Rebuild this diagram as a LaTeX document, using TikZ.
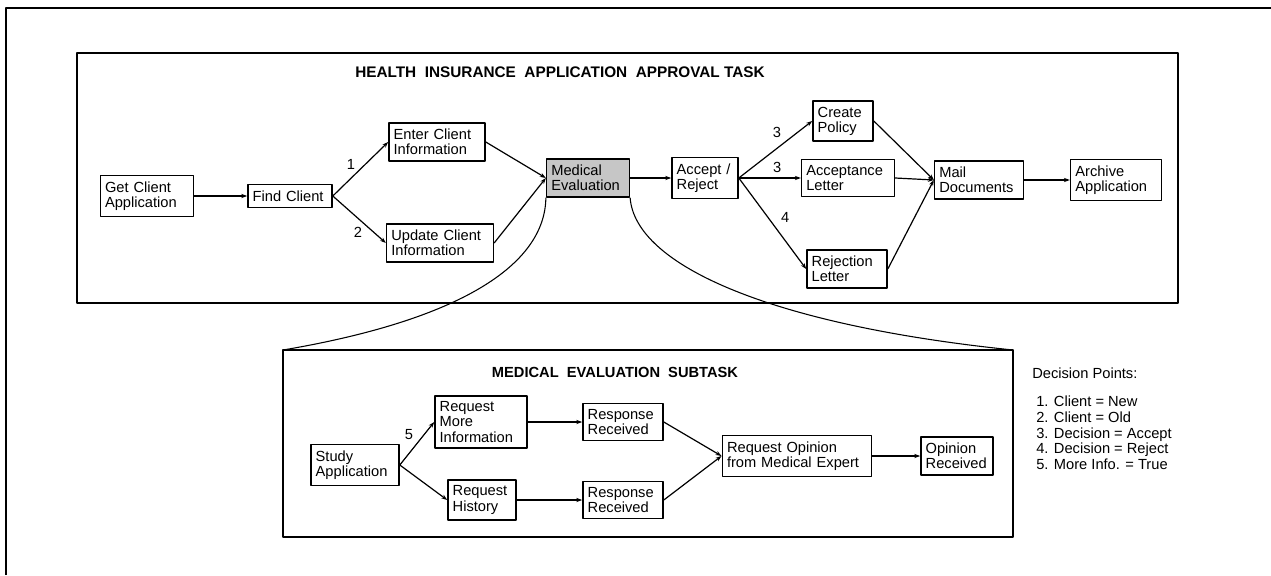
\documentclass[tikz,border=0pt]{standalone}
\usepackage{fontspec}
\setmainfont{Liberation Sans}
\usetikzlibrary{arrows.meta}

\begin{document}
\begin{tikzpicture}[x=0.75pt, y=-0.75pt, font=\fontsize{11}{11.3}\selectfont, line join=round, >={Stealth[length=4.5pt,width=3.2pt]}]
	\tikzset{taskbox/.style={draw, line width=1.2pt, align=left, inner xsep=3.5pt, inner ysep=4.5pt, text width=#1},
		flow/.style={->, line width=0.9pt},
		num/.style={inner sep=1.5pt},
		heading/.style={font=\fontsize{11}{13}\selectfont\bfseries}}
	\useasboundingbox (0,0) rectangle (1271,575);
	% page frame
	\draw[line width=1.4pt] (6,575)--(6,8)--(1271,8);
	% approval task
	\coordinate (topnw) at (77,53);
	\coordinate (topse) at (1178,303);
	\draw[line width=1.3pt] (topnw) rectangle (topse);
	\node[heading, font=\fontsize{11.5}{13}\selectfont\bfseries] (toptitle) at (560,72) {HEALTH\ \ INSURANCE\ \ APPLICATION\ \ APPROVAL TASK};
	\node[taskbox=63pt] (get) at (147,196) {Get Client\\Application};
	\node[taskbox=56pt] (find) at (290,196) {Find Client};
	\node[taskbox=65pt] (enter) at (437,142) {Enter Client\\Information};
	\node[taskbox=73pt] (update) at (440,243) {Update Client\\Information};
	\node[taskbox=55pt, fill=gray!45] (med) at (588,178) {Medical\\Evaluation};
	\node[taskbox=42.5pt] (accept) at (705,178) {Accept /\\Reject};
	\node[taskbox=38pt] (policy) at (843,121) {Create\\Policy};
	\node[taskbox=62.5pt] (acclet) at (848,178) {Acceptance\\Letter};
	\node[taskbox=53pt] (rejlet) at (847,269) {Rejection\\Letter};
	\node[taskbox=59.5pt] (mail) at (979,180) {Mail\\Documents};
	\node[taskbox=61pt] (archive) at (1116,180) {Archive\\Application};
	% medical evaluation subtask
	\coordinate (subnw) at (283,350);
	\coordinate (subne) at (1013,350);
	\draw[line width=1.3pt] (subnw) rectangle (1013,537);
	\node[heading] (subtitle) at (615,372) {MEDICAL\ \ EVALUATION\ \ SUBTASK};
	\node[taskbox=59pt] (study) at (355,465) {Study\\Application};
	\node[taskbox=62pt] (reqmore) at (481,422) {Request\\More\\Information};
	\node[taskbox=44pt] (reqhist) at (482,500) {Request\\History};
	\node[taskbox=53pt] (resp1) at (623,422) {Response\\Received};
	\node[taskbox=53pt] (resp2) at (623,500) {Response\\Received};
	\node[taskbox=105pt] (opinion) at (797,456) {Request Opinion\\from Medical Expert};
	\node[taskbox=47pt] (received) at (957,456) {Opinion\\Received};
	% flows
	\foreach \a/\b in {get/find, enter/med, update/med, med/accept, policy/mail, acclet/mail, rejlet/mail, mail/archive,
		study/reqhist, reqmore/resp1, reqhist/resp2, resp1/opinion, resp2/opinion, opinion/received}
		\draw[flow] (\a.east) -- (\b.west);
	\draw[flow] (find.east) -- node[num, pos=0.45, above left] {1} (enter.west);
	\draw[flow] (find.east) -- node[num, pos=0.6, below left] {2} (update.west);
	\draw[flow] (accept.east) -- node[num, pos=0.52, above=6pt] {3} (policy.west);
	\draw[flow] (accept.east) -- node[num, pos=0.62, above=2pt] {3} (acclet.west);
	\draw[flow] (accept.east) -- node[num, pos=0.55, above right=2pt] {4} (rejlet.west);
	\draw[flow] (study.east) -- node[num, pos=0.5, above left=1pt] {5} (reqmore.west);
	% zoom lines
	\draw[line width=0.8pt] (med.south west) .. controls (545,265) and (460,320) .. (subnw);
	\draw[line width=0.8pt] (med.south east) .. controls (635,265) and (770,325) .. (subne);
	% decision points
	\node[anchor=west, inner sep=0pt] (dphead) at (1032,373) {Decision Points:};
	\node[anchor=north west, inner sep=0pt, align=left, font=\fontsize{11}{11.75}\selectfont] (dplist) at (1036,396)
		{1. Client = New\\2. Client = Old\\3. Decision = Accept\\4. Decision = Reject\\5. More Info. = True};
\end{tikzpicture}
\end{document}
